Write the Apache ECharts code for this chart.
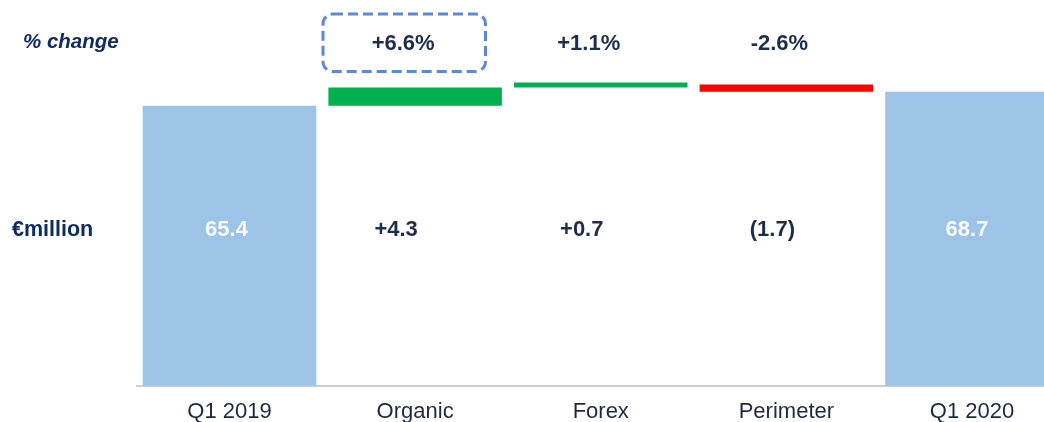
<!DOCTYPE html>
<html>
<head>
<meta charset="utf-8">
<script src="https://cdn.jsdelivr.net/npm/echarts@6/dist/echarts.min.js"></script>
<style>
html,body{margin:0;padding:0;background:#fff;}
#chart{width:1044px;height:422px;}
</style>
</head>
<body>
<div id="chart"></div>
<script>
const categories = ['Q1 2019', 'Organic', 'Forex', 'Perimeter', 'Q1 2020'];
const startValue = 65.4;
const changeValues = [4.3, 0.7, -1.7];
const endValue = 68.7;
const percentChanges = ['+6.6%', '+1.1%', '-2.6%'];
const rowTitles = ['% change', '€million'];

const chart = echarts.init(document.getElementById('chart'));

// waterfall build
const baseData = [0];
const totalData = [startValue];
const incData = ['-'];
const decData = ['-'];
let running = startValue;
changeValues.forEach(v => {
  if (v >= 0) { baseData.push(running); incData.push(v); decData.push('-'); }
  else { baseData.push(running + v); incData.push('-'); decData.push(-v); }
  totalData.push('-');
  running += v;
});
baseData.push(0); totalData.push(endValue); incData.push('-'); decData.push('-');

const fmtChange = v => v >= 0 ? '+' + v.toFixed(1) : '(' + Math.abs(v).toFixed(1) + ')';
const valueLabels = [startValue.toFixed(1)].concat(changeValues.map(fmtChange), [endValue.toFixed(1)]);

const barW = 173.5;
const option = {
  animation: false,
  backgroundColor: '#ffffff',
  grid: { left: 136.7, right: -20.8, top: 43.3, height: 342.4, outerBoundsMode: 'none', containLabel: false },
  xAxis: {
    type: 'category',
    data: categories,
    axisLine: { show: true, lineStyle: { color: '#BFBFBF', width: 1.5 } },
    axisTick: { show: false },
    axisLabel: { margin: 15, fontFamily: 'Liberation Sans, Arial, sans-serif', fontSize: 22, color: '#1F2A3C' }
  },
  yAxis: { type: 'value', min: 0, max: 80, show: false, splitLine: { show: false } },
  series: [
    { type: 'bar', stack: 'w', barWidth: barW, data: baseData, itemStyle: { color: 'transparent' }, silent: true },
    { type: 'bar', stack: 'w', barWidth: barW, data: totalData, itemStyle: { color: '#9DC3E6' } },
    { type: 'bar', stack: 'w', barWidth: barW, data: incData, barMinHeight: 5, itemStyle: { color: '#00B050' } },
    { type: 'bar', stack: 'w', barWidth: barW, data: decData, itemStyle: { color: '#FF0000' } }
  ]
};
chart.setOption(option);

const valueNudge = [-3, -19, -19, -14, -5];
const pctNudge = [-12, -12, -7];
const graphics = [];
graphics.push({
  type: 'text', left: 23, top: 32, z: 100,
  style: { text: rowTitles[0], font: 'italic bold 20.5px "Liberation Sans", Arial, sans-serif', fill: '#0F2B63' }
});
graphics.push({
  type: 'text', left: 12, top: 219, z: 100,
  style: { text: rowTitles[1], font: 'bold 21.5px "Liberation Sans", Arial, sans-serif', fill: '#0F2B63' }
});
categories.forEach((c, i) => {
  const x = chart.convertToPixel({ xAxisIndex: 0 }, c);
  const isTotal = (i === 0 || i === categories.length - 1);
  graphics.push({
    type: 'text', x: x + valueNudge[i], y: 229.5, z: 100,
    style: {
      text: valueLabels[i], align: 'center', verticalAlign: 'middle',
      font: 'bold 22px "Liberation Sans", Arial, sans-serif',
      fill: isTotal ? '#F7F9FC' : '#1F2D4D'
    }
  });
  if (!isTotal) {
    graphics.push({
      type: 'text', x: x + pctNudge[i - 1], y: 44, z: 100,
      style: {
        text: percentChanges[i - 1], align: 'center', verticalAlign: 'middle',
        font: 'bold 22px "Liberation Sans", Arial, sans-serif', fill: '#1F2D4D'
      }
    });
  }
});
// dashed highlight box around first % change
graphics.push({
  type: 'rect', z: 100,
  shape: { x: 323, y: 14, width: 162.5, height: 57.5, r: 10 },
  style: { fill: 'none', stroke: '#5B8AD8', lineWidth: 3, lineDash: [10, 5] }
});
chart.setOption({ graphic: graphics });
</script>
</body>
</html>
